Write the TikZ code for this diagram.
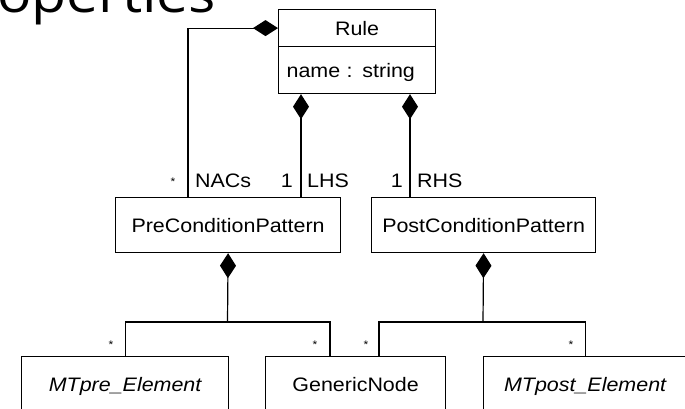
\documentclass[tikz,border=0pt]{standalone}
\usepackage{fontspec}
\setmainfont{Liberation Sans}[FakeStretch=1.1]
\newfontfamily\titlefont{Open Sans}[FakeStretch=1.1]
\usetikzlibrary{arrows.meta,calc}
\begin{document}
\begin{tikzpicture}[x=1pt,y=-1pt,
  box/.style={draw, line width=1.2pt, inner sep=0pt, anchor=north west,
    font=\fontsize{19.5}{22}\selectfont, text height=14pt, text depth=0pt},
  lbl/.style={inner sep=0pt, font=\fontsize{19.5}{22}\selectfont},
  mult/.style={inner sep=0pt, font=\fontsize{11}{12}\selectfont},
  link/.style={line width=1.2pt},
  comp/.style={link, {Diamond[length=25pt,width=16pt]}-}]
\useasboundingbox (0,0) rectangle (685,408);
\clip (0,0) rectangle (685,408);
% title fragment
\node[inner sep=0pt, anchor=base west, font=\titlefont\fontsize{52}{56}\selectfont] (title) at (-3,12) {operties};
% boxes
\node[box, minimum width=157pt, minimum height=37pt] (rulehead) at (278,9) {Rule};
\node[box, minimum width=157pt, minimum height=47pt, text width=141pt, align=left] (ruleattr) at (278,46) {name : string};
\node[box, minimum width=225pt, minimum height=55pt] (pre) at (115,197) {PreConditionPattern};
\node[box, minimum width=224pt, minimum height=55pt] (post) at (371,197) {PostConditionPattern};
\node[box, minimum width=207pt, minimum height=55pt] (mtpre) at (21,356) {\itshape MTpre\_Element};
\node[box, minimum width=180pt, minimum height=55pt] (generic) at (265,356) {GenericNode};
\node[box, minimum width=203pt, minimum height=55pt] (mtpost) at (483,356) {\itshape MTpost\_Element};
% connectors
\draw[comp] (rulehead.west) -| ([xshift=73pt]pre.north west);
\draw[comp] ([xshift=23pt]ruleattr.south west) -- ([xshift=186pt]pre.north west);
\draw[comp] ([xshift=132pt]ruleattr.south west) -- ([xshift=39pt]post.north west);
\coordinate (preBar) at (227.5,322);
\draw[comp] (pre.south) -- (preBar);
\draw[link] (mtpre.north) |- (preBar) -| ([xshift=65pt]generic.north west);
\coordinate (postBar) at (483,322);
\draw[comp] (post.south) -- (postBar);
\draw[link] ([xshift=114pt]generic.north west) |- (postBar) -| (mtpost.north);
% role labels
\node[mult] (mNACs) at (173,182) {*};
\node[lbl, anchor=base west] (lNACs) at (195,187) {NACs};
\node[lbl, anchor=base east] (mLHS) at (293,187) {1};
\node[lbl, anchor=base west] (lLHS) at (307,187) {LHS};
\node[lbl, anchor=base east] (mRHS) at (403,187) {1};
\node[lbl, anchor=base west] (lRHS) at (417,187) {RHS};
\node[mult] (m1) at (111,345) {*};
\node[mult] (m2) at (315,345) {*};
\node[mult] (m3) at (366,345) {*};
\node[mult] (m4) at (571,345) {*};
\end{tikzpicture}
\end{document}
